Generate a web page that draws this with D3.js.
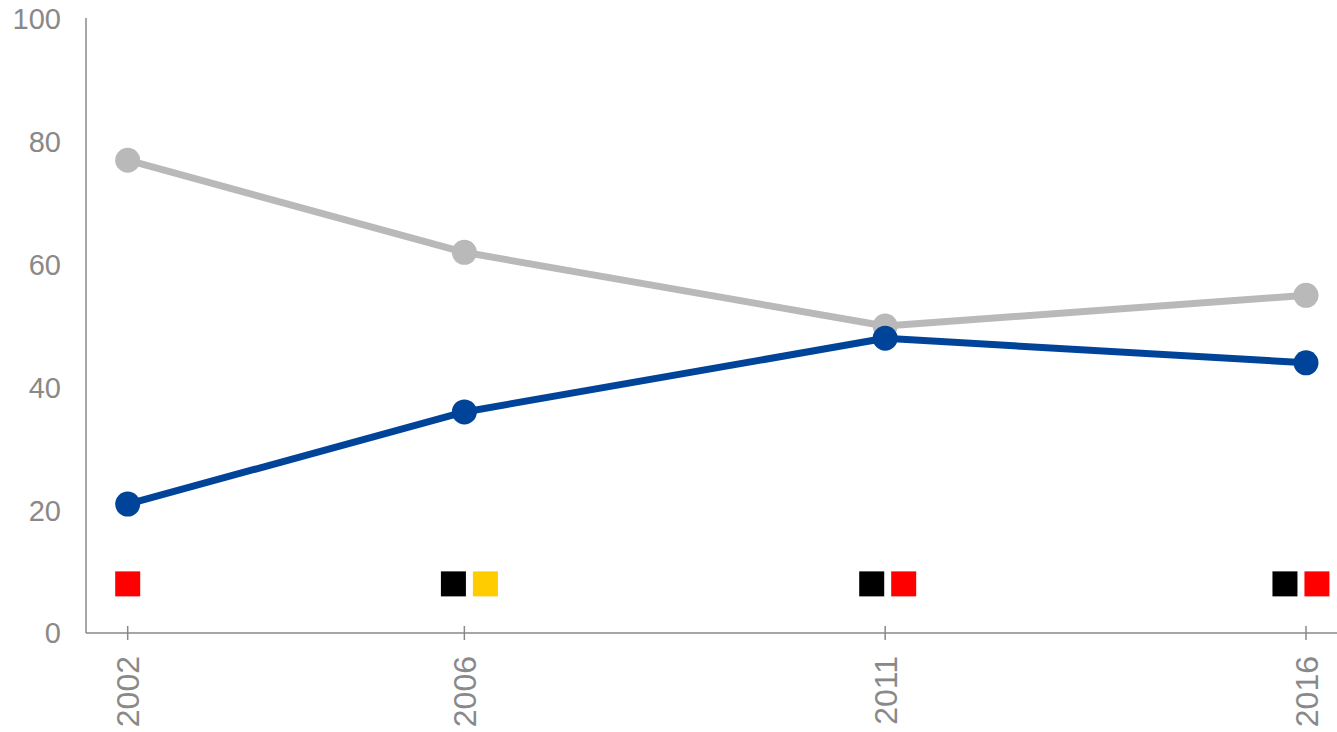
<!DOCTYPE html>
<html lang="en">
<head>
    <meta charset="utf-8">
    <script src="https://d3js.org/d3.v7.min.js"></script>
    <style>
        body { margin: 0; background: #fff; }
        .tick-label { font-family: "Liberation Sans", Arial, sans-serif; font-size: 29px; fill: #898989; }
        .x-label { font-size: 32px; }
    </style>
</head>
<body>
    <svg id="chart" width="1337" height="732"></svg>
    <script>
        // data
        const years = [2002, 2006, 2011, 2016];
        const greyValues = [77, 62, 50, 55];
        const blueValues = [21, 36, 48, 44];
        const yTicks = [0, 20, 40, 60, 80, 100];

        // coloured markers near the bottom (fractional year, colour)
        const markerYears = [2002.0, 2005.87, 2006.25, 2010.84, 2011.22, 2015.75, 2016.13];
        const markerColors = ["#ff0000", "#000000", "#ffcc00", "#000000", "#ff0000", "#000000", "#ff0000"];
        const markerValue = 8;

        const width = 1337;
        const axisLeft = 86;
        const svg = d3.select("#chart");

        const x = d3.scaleLinear().domain([2002, 2016]).range([127.7, 1306]);
        const y = d3.scaleLinear().domain([0, 100]).range([633, 19]);

        const grey = "#b9b9b9";
        const blue = "#00449a";
        const axisColor = "#898989";

        // axes
        svg.append("line")
            .attr("x1", axisLeft).attr("x2", axisLeft)
            .attr("y1", y(100) - 1).attr("y2", y(0))
            .attr("stroke", axisColor).attr("stroke-width", 1.5);
        svg.append("line")
            .attr("x1", axisLeft).attr("x2", width)
            .attr("y1", y(0)).attr("y2", y(0))
            .attr("stroke", axisColor).attr("stroke-width", 1.5);

        svg.selectAll(".xtick")
            .data(years)
            .enter().append("line")
            .attr("x1", d => x(d)).attr("x2", d => x(d))
            .attr("y1", y(0) - 7).attr("y2", y(0) + 7)
            .attr("stroke", axisColor).attr("stroke-width", 1.5);

        svg.selectAll(".ylabel")
            .data(yTicks)
            .enter().append("text")
            .attr("class", "tick-label")
            .attr("x", 61)
            .attr("y", d => y(d))
            .attr("dy", "0.36em")
            .attr("text-anchor", "end")
            .text(d => d);

        svg.selectAll(".xlabel")
            .data(years)
            .enter().append("text")
            .attr("class", "tick-label x-label")
            .attr("transform", d => `translate(${x(d)},${y(0) + 23}) rotate(-90)`)
            .attr("dy", "0.36em")
            .attr("text-anchor", "end")
            .text(d => d);

        // markers
        svg.selectAll(".marker")
            .data(markerYears)
            .enter().append("rect")
            .attr("x", d => x(d) - 12.5)
            .attr("y", y(markerValue) - 12.5)
            .attr("width", 25)
            .attr("height", 25)
            .attr("fill", (d, i) => markerColors[i]);

        // lines
        const line = d3.line()
            .x(d => x(d[0]))
            .y(d => y(d[1]));

        function drawSeries(values, color) {
            const pts = years.map((yr, i) => [yr, values[i]]);
            svg.append("path")
                .datum(pts)
                .attr("d", line)
                .attr("fill", "none")
                .attr("stroke", color)
                .attr("stroke-width", 7)
                .attr("stroke-linejoin", "round");
            svg.append("g").selectAll("circle")
                .data(pts)
                .enter().append("circle")
                .attr("cx", d => x(d[0]))
                .attr("cy", d => y(d[1]))
                .attr("r", 12.5)
                .attr("fill", color);
        }

        drawSeries(greyValues, grey);
        drawSeries(blueValues, blue);
    </script>
</body>
</html>
